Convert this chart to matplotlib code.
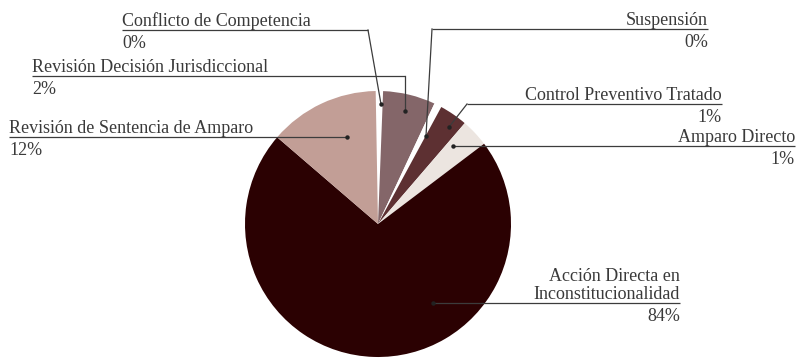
import matplotlib
matplotlib.use("Agg")
import matplotlib.pyplot as plt

# slices, clockwise from the top
categories = [
    "Conflicto de Competencia",
    "Revisión Decisión Jurisdiccional",
    "Suspensión",
    "Control Preventivo Tratado",
    "Amparo Directo",
    "Acción Directa en\nInconstitucionalidad",
    "Revisión de Sentencia de Amparo",
]
percent_labels = [0, 2, 0, 1, 1, 84, 12]
# drawn slice sizes (degrees of the circle)
slice_sizes = [3.2, 22.9, 3.3, 12.3, 12.2, 257.8, 48.3]
colors = ["#ffffff", "#846669", "#ffffff", "#5d3032", "#ece5e0", "#2b0102", "#c29e96"]

# label layout in pixels: text anchor x, alignment, underline y, elbow x, dot (x, y)
label_layout = [
    dict(tx=122, ha="left", ly=30, ex=368, dot=(381, 104)),
    dict(tx=32, ha="left", ly=76, ex=405, dot=(405, 111)),
    dict(tx=708, ha="right", ly=29, ex=432, dot=(426, 136)),
    dict(tx=722, ha="right", ly=104, ex=467, dot=(449, 127)),
    dict(tx=795, ha="right", ly=146, ex=453, dot=(453, 146)),
    dict(tx=680, ha="right", ly=303, ex=433, dot=(433, 303)),
    dict(tx=9, ha="left", ly=137, ex=347, dot=(347, 137)),
]

plt.rcParams["font.family"] = ["Liberation Serif", "DejaVu Serif"]
text_color = "#3a3a3a"
line_color = "#3c3c3c"

fig = plt.figure(figsize=(7.98, 3.61), dpi=100)
ax = fig.add_axes([0, 0, 1, 1])

# y axis runs downward, so increasing angles go clockwise on screen
ax.pie(slice_sizes, colors=colors, center=(378, 224), radius=133,
       startangle=269, counterclock=True, normalize=True,
       wedgeprops=dict(linewidth=0))

ax.set_xlim(0, 798)
ax.set_ylim(361, 0)
ax.set_aspect("equal")
ax.axis("off")

for name, pct, lay in zip(categories, percent_labels, label_layout):
    ly = lay["ly"]
    dx, dy = lay["dot"]
    # underline from the text edge to the elbow, then down to the slice
    ax.plot([lay["tx"], lay["ex"]], [ly, ly], color=line_color, lw=0.9,
            solid_capstyle="butt")
    ax.plot([lay["ex"], dx], [ly, dy], color=line_color, lw=0.9)
    ax.plot(dx, dy, "o", color="#222222", ms=3.2, mec="none")
    ax.text(lay["tx"], ly - 4, name, ha=lay["ha"], va="baseline",
            fontsize=13, color=text_color, linespacing=1.05)
    ax.text(lay["tx"], ly + 18, f"{pct}%", ha=lay["ha"], va="baseline",
            fontsize=13, color=text_color)

fig.savefig("out.png", dpi=100)
